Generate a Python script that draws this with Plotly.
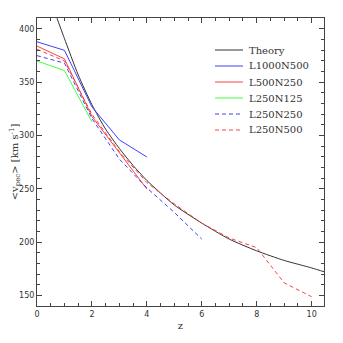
import plotly.graph_objects as go

# Theory curve
theory_z = [0.6, 0.73, 1, 1.5, 2, 2.5, 3, 3.5, 4, 5, 6, 7, 8, 9, 10, 10.5]
theory_v = [420, 410, 391, 357, 329, 306, 288, 272, 258, 235, 218, 203, 192, 183, 176, 172]

l1000n500_z = [0, 1, 2, 3, 4]
l1000n500_v = [388, 380, 327, 296, 280]

l500n250_z = [0, 1, 2, 3, 4]
l500n250_v = [384, 372, 318, 284, 250]

l250n125_z = [0, 1, 2]
l250n125_v = [370, 361, 313]

l250n250_z = [0, 1, 2, 3, 4, 5, 6]
l250n250_v = [375, 368, 316, 278, 251, 228, 203]

l250n500_z = [0, 1, 2, 3, 4, 5, 6, 7, 8, 9, 10]
l250n500_v = [381, 370, 320, 285, 256, 236, 218, 204, 195, 162, 149]

series_names = ["Theory", "L1000N500", "L500N250", "L250N125", "L250N250", "L250N500"]
series_colors = ["#333333", "#4040ff", "#ff4040", "#40ff40", "#4040ff", "#ff4040"]
series_dash = ["solid", "solid", "solid", "solid", "4px,3px", "4px,3px"]

x_ticks = [0, 2, 4, 6, 8, 10]
y_ticks = [150, 200, 250, 300, 350, 400]

fig = go.Figure()
fig.add_trace(go.Scatter(x=theory_z, y=theory_v, mode="lines", name=series_names[0],
                         line=dict(color=series_colors[0], width=1, shape="spline", smoothing=0.6)))
for i, (zz, vv) in enumerate([(l1000n500_z, l1000n500_v), (l500n250_z, l500n250_v),
                              (l250n125_z, l250n125_v), (l250n250_z, l250n250_v),
                              (l250n500_z, l250n500_v)], start=1):
    fig.add_trace(go.Scatter(x=zz, y=vv, mode="lines", name=series_names[i],
                             line=dict(color=series_colors[i], width=1, dash=series_dash[i])))

axis_common = dict(
    showline=True, linecolor="#444444", linewidth=1, mirror="allticks",
    ticks="inside", ticklen=5, tickcolor="#444444", tickwidth=1,
    showgrid=False, zeroline=False, automargin=False,
    tickfont=dict(family="DejaVu Sans", size=8, color="#333333"),
)

fig.update_xaxes(range=[0, 10.45], tickvals=x_ticks,
                 minor=dict(dtick=0.5, ticks="inside", ticklen=3, tickcolor="#444444", showgrid=False),
                 title=dict(text="z", font=dict(family="DejaVu Serif", size=10, color="#333333"), standoff=4),
                 **axis_common)
fig.update_yaxes(range=[140.3, 410.3], tickvals=y_ticks,
                 minor=dict(dtick=10, ticks="inside", ticklen=3, tickcolor="#444444", showgrid=False),
                 title=dict(text="&lt;v<sub>pec</sub>&gt; [km s<sup>-1</sup>]",
                            font=dict(family="DejaVu Serif", size=10, color="#333333"), standoff=4),
                 **axis_common)

# Page offset (browser body margin) compensated
OFF = 8
W = H = 343 - OFF
L, R, T, B = 37 - OFF, 324 - OFF, 18 - OFF, 306 - OFF

def px_x(p):
    return (p - OFF - L) / (R - L)

def px_y(p):
    return (B - (p - OFF)) / (B - T)

# Manual legend (compact spacing like the reference)
for i, name in enumerate(series_names):
    yc = 50 + 16 * i
    fig.add_shape(type="line", xref="paper", yref="paper",
                  x0=px_x(215), x1=px_x(243), y0=px_y(yc), y1=px_y(yc),
                  line=dict(color=series_colors[i], width=1, dash=series_dash[i]))
    fig.add_annotation(xref="paper", yref="paper", x=px_x(247), y=px_y(yc),
                       xanchor="left", yanchor="middle", text=name, showarrow=False,
                       font=dict(family="DejaVu Serif", size=10, color="#333333"))

fig.update_layout(
    width=W, height=H,
    margin=dict(l=L, r=W - R, t=T, b=H - B),
    paper_bgcolor="white", plot_bgcolor="white",
    showlegend=False,
)

fig.write_html("out.html")
